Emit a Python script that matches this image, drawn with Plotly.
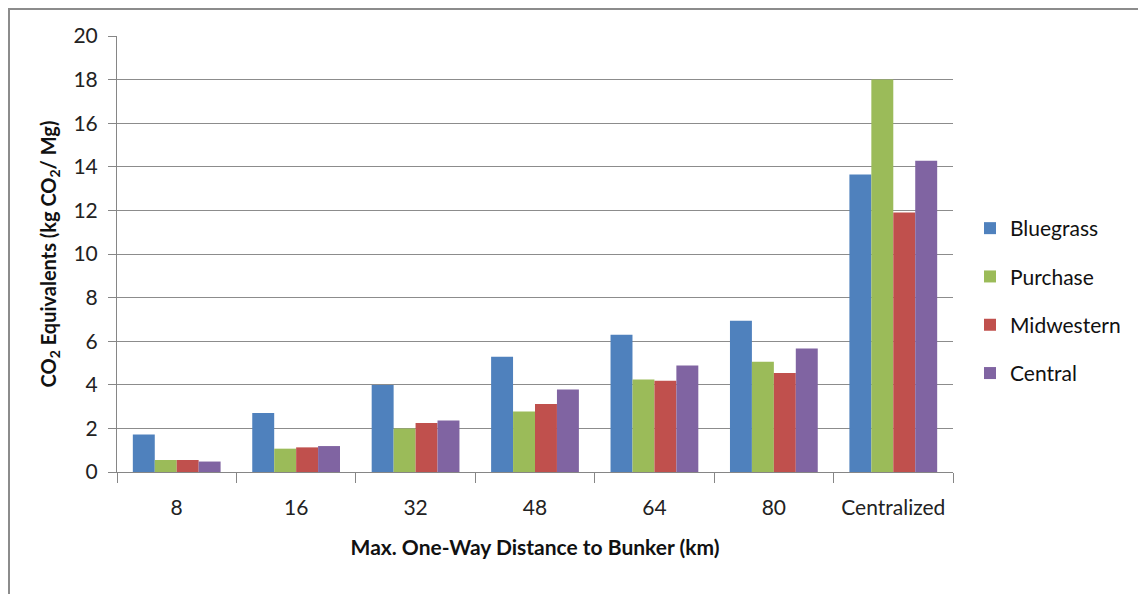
import plotly.graph_objects as go

categories = ["8", "16", "32", "48", "64", "80", "Centralized"]
bluegrass = [1.72, 2.71, 3.99, 5.29, 6.30, 6.94, 13.65]
purchase = [0.55, 1.07, 1.99, 2.77, 4.24, 5.06, 18.0]
midwestern = [0.55, 1.13, 2.25, 3.12, 4.19, 4.54, 11.9]
central = [0.48, 1.19, 2.36, 3.78, 4.88, 5.67, 14.28]
series_names = ["Bluegrass", "Purchase", "Midwestern", "Central"]
colors = ["#4F81BD", "#9BBB59", "#C0504D", "#8064A2"]
y_ticks = list(range(0, 21, 2))

FONT = "Lato, 'Liberation Sans', sans-serif"
fig = go.Figure()
for name, vals, col in zip(series_names, [bluegrass, purchase, midwestern, central], colors):
    fig.add_trace(go.Bar(x=categories, y=vals, name=name, marker=dict(color=col, line=dict(width=0)),
                         legendgroup=name))

OFF = 8  # page body margin
W, H = 1146 - OFF, 594 - OFF
L, R, T, B = 117 - OFF, 1146 - 953, 36 - OFF, 594 - 472
pw, ph = W - L - R, H - T - B

def px(x):
    return (x - OFF - L) / pw

def py(y):
    return (H - B - (y - OFF)) / ph

fig.update_layout(
    width=W, height=H,
    margin=dict(l=L, r=R, t=T, b=B, autoexpand=False),
    paper_bgcolor="white", plot_bgcolor="white",
    barmode="group", bargap=0.265, bargroupgap=0,
    font=dict(family=FONT, color="#222222", size=20),
    legend=dict(x=px(970), y=py(301), xanchor="left", yanchor="middle",
                font=dict(size=21, color="#111111"), tracegroupgap=18,
                itemwidth=30, bgcolor="rgba(0,0,0,0)"),
    xaxis=dict(
        type="category", tickson="boundaries", ticks="outside", ticklen=10,
        tickcolor="#868686", showline=True, linecolor="#868686", linewidth=1,
        tickfont=dict(size=21, color="#222222"), ticklabelstandoff=17,
        title=dict(text="<b>Max. One-Way Distance to Bunker (km)</b>",
                   font=dict(size=21, color="#111111"), standoff=22),
        showgrid=False,
    ),
    yaxis=dict(
        range=[0, 20], tickvals=y_ticks, ticks="outside", ticklen=8,
        tickcolor="#868686", showline=True, linecolor="#868686", linewidth=1,
        showgrid=True, gridcolor="#8C8C8C", gridwidth=1,
        tickfont=dict(size=21, color="#222222"), ticklabelstandoff=6,
        title=dict(text="<b>CO<sub>2</sub> Equivalents (kg CO<sub>2</sub>/ Mg)</b>",
                   font=dict(size=20, color="#111111"), standoff=11),
        zeroline=False,
    ),
    shapes=[
        dict(type="line", xref="paper", yref="paper", x0=px(9), x1=px(9), y0=py(8), y1=py(600),
             line=dict(color="#8C8C8C", width=2)),
        dict(type="line", xref="paper", yref="paper", x0=px(8), x1=px(1150), y0=py(9), y1=py(9),
             line=dict(color="#8C8C8C", width=2)),
    ],
)

fig.write_html("out.html")
